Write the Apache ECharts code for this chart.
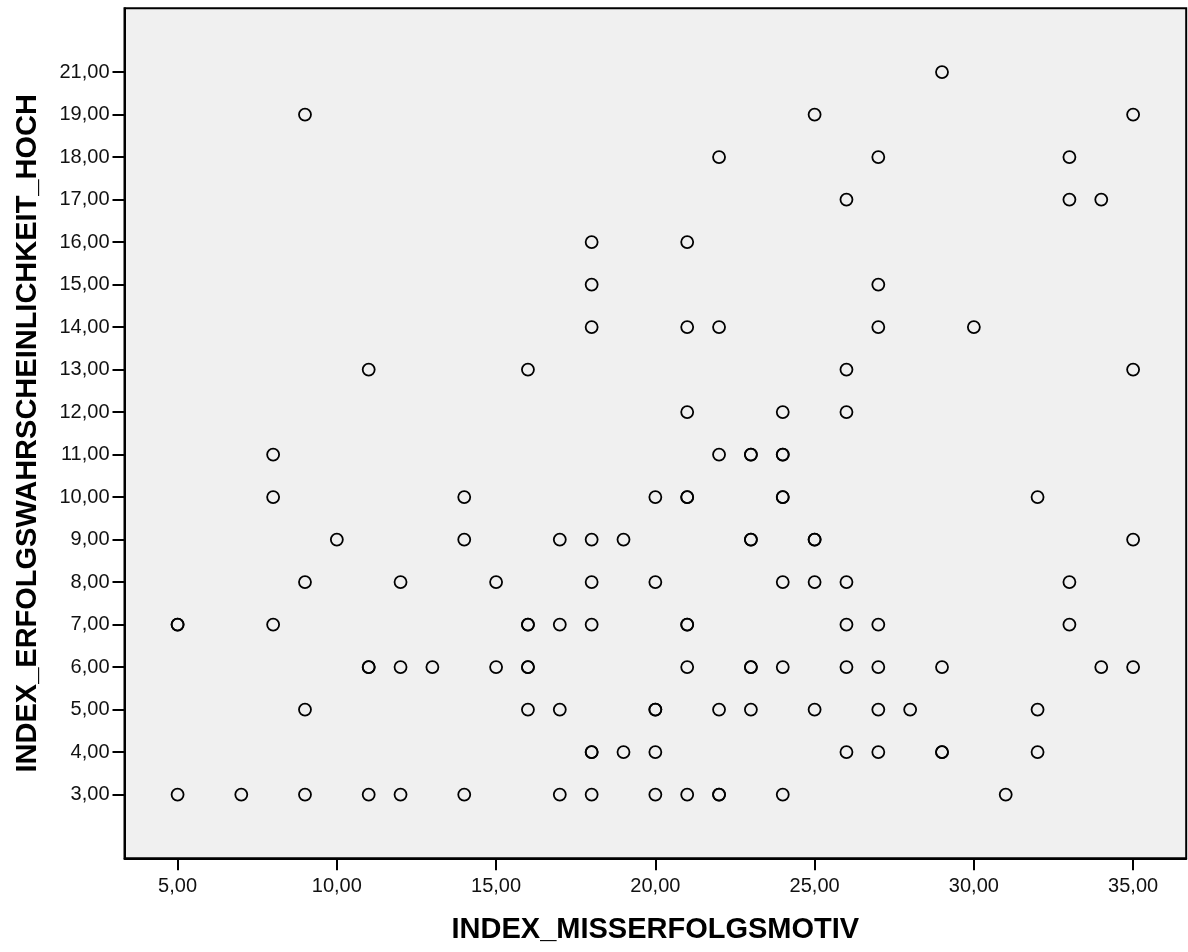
<!DOCTYPE html>
<html>
<head>
<meta charset="utf-8">
<style>
  html, body { margin: 0; padding: 0; background: #ffffff; }
  #chart { width: 1188px; height: 952px; }
</style>
<script src="https://cdn.jsdelivr.net/npm/echarts@6/dist/echarts.min.js"></script>
</head>
<body>
<div id="chart"></div>
<script>
// Y axis is categorical in the original: only observed levels are shown (no 20)
const yLevels = [3, 4, 5, 6, 7, 8, 9, 10, 11, 12, 13, 14, 15, 16, 17, 18, 19, 21];
const xTickValues = [5, 10, 15, 20, 25, 30, 35];

// Observations (INDEX_MISSERFOLGSMOTIV, INDEX_ERFOLGSWAHRSCHEINLICHKEIT_HOCH)
const xValues = [
  29,
  9, 25, 35,
  22, 27, 33,
  26, 33, 34,
  18, 21,
  18, 27,
  18, 21, 22, 27, 30,
  11, 16, 26, 35,
  21, 24, 26,
  8, 22, 23, 23, 24, 24,
  8, 14, 20, 21, 21, 24, 24, 32,
  10, 14, 17, 18, 19, 23, 23, 25, 25, 35,
  9, 12, 15, 18, 20, 24, 25, 26, 33,
  5, 5, 8, 16, 16, 17, 18, 21, 21, 26, 27, 33,
  11, 11, 12, 13, 15, 16, 16, 21, 23, 23, 24, 26, 27, 29, 34, 35,
  9, 16, 17, 20, 20, 22, 23, 25, 27, 28, 32,
  18, 18, 19, 20, 26, 27, 29, 29, 32,
  5, 7, 9, 11, 12, 14, 17, 18, 20, 21, 22, 22, 24, 31
];
const yValues = [
  21,
  19, 19, 19,
  18, 18, 18,
  17, 17, 17,
  16, 16,
  15, 15,
  14, 14, 14, 14, 14,
  13, 13, 13, 13,
  12, 12, 12,
  11, 11, 11, 11, 11, 11,
  10, 10, 10, 10, 10, 10, 10, 10,
  9, 9, 9, 9, 9, 9, 9, 9, 9, 9,
  8, 8, 8, 8, 8, 8, 8, 8, 8,
  7, 7, 7, 7, 7, 7, 7, 7, 7, 7, 7, 7,
  6, 6, 6, 6, 6, 6, 6, 6, 6, 6, 6, 6, 6, 6, 6, 6,
  5, 5, 5, 5, 5, 5, 5, 5, 5, 5, 5,
  4, 4, 4, 4, 4, 4, 4, 4, 4,
  3, 3, 3, 3, 3, 3, 3, 3, 3, 3, 3, 3, 3, 3
];

const fmt = v => Number(v).toFixed(2).replace('.', ',');
const levelIdx = yLevels.map((_, i) => i);
const points = xValues.map((x, i) => [x, yLevels.indexOf(yValues[i])]);

const FONT = 'Liberation Sans, Arial, Helvetica, sans-serif';

const chart = echarts.init(document.getElementById('chart'), null, { renderer: 'canvas' });
chart.setOption({
  animation: false,
  backgroundColor: '#ffffff',
  grid: {
    left: 124.5, top: 8.3, right: 1.8, bottom: 93.7,
    show: true,
    backgroundColor: '#f0f0f0',
    borderColor: '#000000',
    borderWidth: 2,
    containLabel: false,
    outerBoundsMode: 'none'
  },
  xAxis: {
    type: 'value',
    position: 'bottom',
    min: 10 / 3,
    max: 110 / 3,
    name: 'INDEX_MISSERFOLGSMOTIV',
    nameLocation: 'middle',
    nameGap: 57,
    nameTextStyle: { fontFamily: FONT, fontSize: 29, fontWeight: 'bold', color: '#000' },
    axisLine: { show: true, onZero: false, lineStyle: { color: '#000', width: 2 } },
    splitLine: { show: false },
    axisTick: {
      show: true, length: 12, inside: false,
      customValues: xTickValues,
      lineStyle: { color: '#000', width: 2 }
    },
    axisLabel: {
      show: true, margin: 18,
      customValues: xTickValues,
      formatter: v => fmt(v),
      fontFamily: FONT, fontSize: 20, color: '#111'
    }
  },
  yAxis: {
    type: 'value',
    position: 'left',
    min: -1.5,
    max: yLevels.length + 0.5,
    name: 'INDEX_ERFOLGSWAHRSCHEINLICHKEIT_HOCH',
    nameLocation: 'middle',
    nameGap: 82,
    nameRotate: 90,
    nameTextStyle: { fontFamily: FONT, fontSize: 29, fontWeight: 'bold', color: '#000' },
    axisLine: { show: true, onZero: false, lineStyle: { color: '#000', width: 2 } },
    splitLine: { show: false },
    axisTick: {
      show: true, length: 12, inside: false,
      customValues: levelIdx,
      lineStyle: { color: '#000', width: 2 }
    },
    axisLabel: {
      show: true, margin: 15,
      customValues: levelIdx,
      formatter: v => fmt(yLevels[Math.round(v)]),
      fontFamily: FONT, fontSize: 20, color: '#111'
    }
  },
  series: [{
    type: 'scatter',
    data: points,
    symbol: 'circle',
    symbolSize: 12,
    itemStyle: { color: 'rgba(0,0,0,0)', borderColor: '#000', borderWidth: 1.8, opacity: 1 },
    emphasis: { disabled: true },
    silent: true
  }]
});
</script>
</body>
</html>
